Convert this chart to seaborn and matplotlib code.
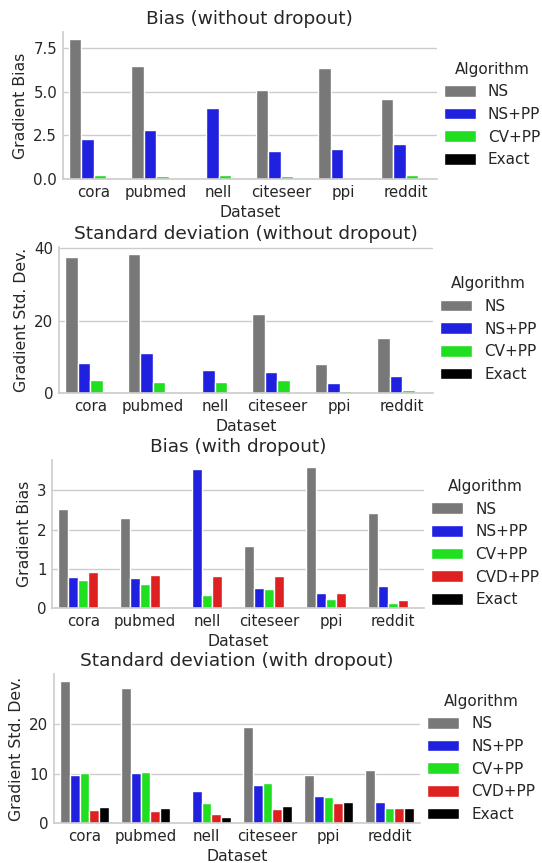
import numpy as np
import pandas as pd
import matplotlib
matplotlib.use("Agg")
import matplotlib.pyplot as plt
import seaborn as sns

datasets = ["cora", "pubmed", "nell", "citeseer", "ppi", "reddit"]
algos4 = ["NS", "NS+PP", "CV+PP", "Exact"]
algos5 = ["NS", "NS+PP", "CV+PP", "CVD+PP", "Exact"]
colors = {"NS": "#787878", "NS+PP": "#2020df", "CV+PP": "#20df20",
          "CVD+PP": "#df2020", "Exact": "#000000"}

# Bias (without dropout)
bias_nodrop_ns = [8.0, 6.47, np.nan, 5.09, 6.35, 4.58]
bias_nodrop_nspp = [2.29, 2.80, 4.06, 1.60, 1.72, 2.00]
bias_nodrop_cvpp = [0.22, 0.15, 0.22, 0.15, 0.08, 0.22]
bias_nodrop_exact = [0, 0, 0, 0, 0, 0]

# Standard deviation (without dropout)
std_nodrop_ns = [37.6, 38.4, np.nan, 22.0, 8.0, 15.4]
std_nodrop_nspp = [8.3, 11.05, 6.4, 5.85, 2.83, 4.75]
std_nodrop_cvpp = [3.65, 3.1, 3.1, 3.65, 0.64, 0.9]
std_nodrop_exact = [0, 0, 0, 0, 0, 0]

# Bias (with dropout)
bias_drop_ns = [2.53, 2.30, np.nan, 1.58, 3.59, 2.42]
bias_drop_nspp = [0.80, 0.77, 3.54, 0.52, 0.39, 0.57]
bias_drop_cvpp = [0.72, 0.62, 0.34, 0.49, 0.24, 0.14]
bias_drop_cvdpp = [0.92, 0.85, 0.82, 0.82, 0.39, 0.21]
bias_drop_exact = [0, 0, 0, 0, 0, 0]

# Standard deviation (with dropout)
std_drop_ns = [28.5, 27.1, np.nan, 19.3, 9.67, 10.67]
std_drop_nspp = [9.67, 10.07, 6.47, 7.67, 5.47, 4.27]
std_drop_cvpp = [10.07, 10.27, 4.07, 8.07, 5.27, 3.07]
std_drop_cvdpp = [2.67, 2.47, 1.87, 2.87, 4.07, 3.07]
std_drop_exact = [3.27, 3.07, 1.27, 3.47, 4.27, 3.07]

titles = ["Bias (without dropout)", "Standard deviation (without dropout)",
          "Bias (with dropout)", "Standard deviation (with dropout)"]
ylabels = ["Gradient Bias", "Gradient Std. Dev.", "Gradient Bias", "Gradient Std. Dev."]
yticks = [[0.0, 2.5, 5.0, 7.5], [0, 20, 40], [0, 1, 2, 3], [0, 10, 20]]
ytlabels = [["0.0", "2.5", "5.0", "7.5"], ["0", "20", "40"], ["0", "1", "2", "3"], ["0", "10", "20"]]

panels = [
    (algos4, [bias_nodrop_ns, bias_nodrop_nspp, bias_nodrop_cvpp, bias_nodrop_exact]),
    (algos4, [std_nodrop_ns, std_nodrop_nspp, std_nodrop_cvpp, std_nodrop_exact]),
    (algos5, [bias_drop_ns, bias_drop_nspp, bias_drop_cvpp, bias_drop_cvdpp, bias_drop_exact]),
    (algos5, [std_drop_ns, std_drop_nspp, std_drop_cvpp, std_drop_cvdpp, std_drop_exact]),
]

def make_df(algos, series):
    rows = []
    for a, vals in zip(algos, series):
        for d, v in zip(datasets, vals):
            if not np.isnan(v):
                rows.append({"Dataset": d, "Algorithm": a, "value": v})
    return pd.DataFrame(rows)

sns.set_style("whitegrid")
plt.rcParams["font.family"] = ["DejaVu Sans"]
plt.rcParams["text.color"] = ".15"
plt.rcParams["axes.labelcolor"] = ".15"
plt.rcParams["xtick.color"] = ".15"
plt.rcParams["ytick.color"] = ".15"

W, H = 542, 863
fig = plt.figure(figsize=(W / 100, H / 100), dpi=100)

# axes boxes in pixels: left, right, top, bottom
boxes = [(62.7, 436.7, 32.3, 179.0), (59.0, 433.3, 247.3, 393.3),
         (52.3, 424.0, 460.0, 608.3), (54.0, 420.0, 674.3, 823.3)]

for i, (algos, series) in enumerate(panels):
    l, r, t, b = boxes[i]
    ax = fig.add_axes([l / W, 1 - b / H, (r - l) / W, (b - t) / H])
    df = make_df(algos, series)
    sns.barplot(data=df, x="Dataset", y="value", hue="Algorithm",
                order=datasets, hue_order=algos,
                palette=[colors[a] for a in algos], saturation=1,
                errorbar=None, ax=ax)
    sns.despine(ax=ax)
    ax.set_title(titles[i], fontsize=13.3)
    ax.set_ylabel(ylabels[i], fontsize=11.3)
    ax.set_xlabel("Dataset", fontsize=11.3)
    ax.set_yticks(yticks[i])
    ax.set_yticklabels(ytlabels[i])
    ax.tick_params(axis="both", labelsize=10.8, length=0, pad=4)
    ax.xaxis.grid(False)
    ax.yaxis.grid(True, color=".8", linewidth=1)
    for s in ["left", "bottom"]:
        ax.spines[s].set_color(".8")
        ax.spines[s].set_linewidth(1.2)
    ax.legend(title="Algorithm", loc="center left", bbox_to_anchor=(1.0, 0.44),
              frameon=False, fontsize=11, title_fontsize=11,
              borderaxespad=0.05, handlelength=2.1, handleheight=0.8)

fig.savefig("out.png", dpi=100)
